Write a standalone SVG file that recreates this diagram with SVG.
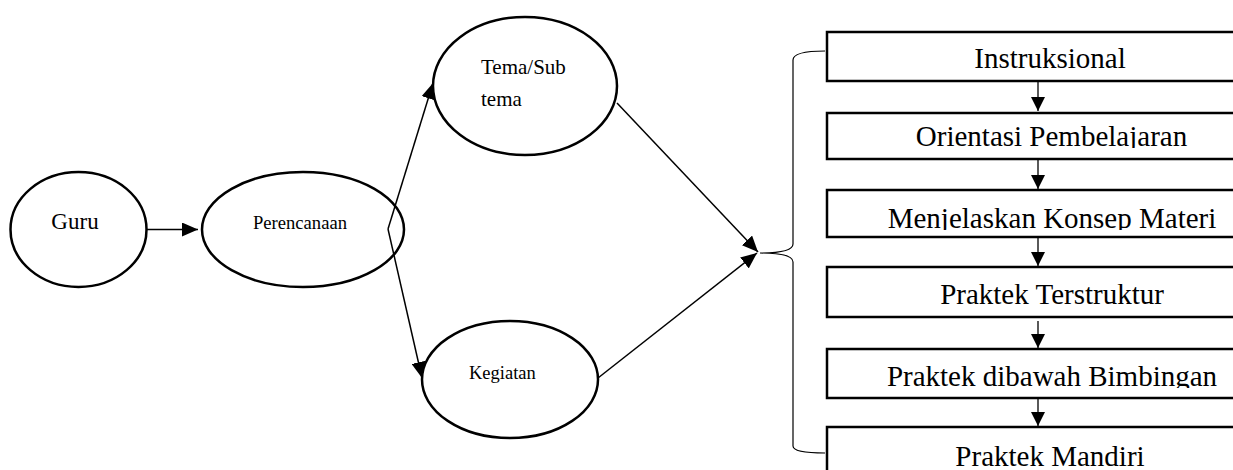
<svg xmlns="http://www.w3.org/2000/svg" width="1233" height="470" viewBox="0 0 1233 470">
<style>
.node{fill:#fff;stroke:#000;stroke-width:2.5}
.box{fill:#fff;stroke:#000;stroke-width:2.5}
.lbl{font-family:"Liberation Serif","Times New Roman",serif;fill:#000}
.con{fill:none;stroke:#000;stroke-width:1.5}
.stem{fill:none;stroke:#000;stroke-width:1.3}
.brace{fill:none;stroke:#000;stroke-width:1.2}
</style>
<defs>
<marker id="ah" markerUnits="userSpaceOnUse" markerWidth="16" markerHeight="14" refX="16" refY="7" orient="auto">
<path d="M0,0 L16,7 L0,14 z" fill="#000"/>
</marker>
<marker id="ahs" markerUnits="userSpaceOnUse" markerWidth="14" markerHeight="14" refX="14" refY="7" orient="auto">
<path d="M0,0 L14,7 L0,14 z" fill="#000"/>
</marker>
<clipPath id="c1"><rect x="828" y="33" width="420" height="37"/></clipPath>
<clipPath id="c2"><rect x="828" y="114" width="420" height="34"/></clipPath>
<clipPath id="c3"><rect x="828" y="191" width="420" height="39"/></clipPath>
<clipPath id="c4"><rect x="828" y="268" width="420" height="38"/></clipPath>
<clipPath id="c5"><rect x="828" y="350" width="420" height="38"/></clipPath>
<clipPath id="c6"><rect x="828" y="428" width="420" height="42"/></clipPath>
</defs>
<rect width="1233" height="470" fill="#fff"/>
<g id="guru">
<ellipse class="node" cx="78.5" cy="229.5" rx="68" ry="57.5"/>
<text class="lbl" x="75" y="229" font-size="23" text-anchor="middle">Guru</text>
</g>
<g id="perencanaan">
<ellipse class="node" cx="303" cy="229.5" rx="101" ry="57.5"/>
<text class="lbl" x="300" y="229" font-size="18.6" text-anchor="middle">Perencanaan</text>
</g>
<g id="tema">
<ellipse class="node" cx="525" cy="86" rx="92" ry="69"/>
<text class="lbl" x="481" y="74" font-size="21">Tema/Sub</text>
<text class="lbl" x="481" y="106" font-size="21">tema</text>
</g>
<g id="kegiatan">
<ellipse class="node" cx="510" cy="379.5" rx="88" ry="58.5"/>
<text class="lbl" x="469" y="379" font-size="18.5">Kegiatan</text>
</g>
<g id="instruksional">
<rect class="box" x="827" y="32" width="440" height="49"/>
<text class="lbl" x="1050" y="68" font-size="29" text-anchor="middle" clip-path="url(#c1)">Instruksional</text>
</g>
<g id="orientasi">
<rect class="box" x="827" y="113" width="440" height="46"/>
<text class="lbl" x="1051.5" y="146" font-size="29" text-anchor="middle" clip-path="url(#c2)">Orientasi Pembelajaran</text>
</g>
<g id="menjelaskan">
<rect class="box" x="827" y="190" width="440" height="47"/>
<text class="lbl" x="1052" y="228" font-size="29" text-anchor="middle" clip-path="url(#c3)">Menjelaskan Konsep Materi</text>
</g>
<g id="terstruktur">
<rect class="box" x="827" y="267" width="440" height="50"/>
<text class="lbl" x="1052" y="304" font-size="29" text-anchor="middle" clip-path="url(#c4)">Praktek Terstruktur</text>
</g>
<g id="bimbingan">
<rect class="box" x="827" y="349" width="440" height="49"/>
<text class="lbl" x="1052" y="386" font-size="29" text-anchor="middle" clip-path="url(#c5)">Praktek dibawah Bimbingan</text>
</g>
<g id="mandiri">
<rect class="box" x="827" y="427" width="440" height="60"/>
<text class="lbl" x="1050" y="465.5" font-size="29" text-anchor="middle">Praktek Mandiri</text>
</g>
<g id="connectors">
<line class="con" x1="147" y1="229.5" x2="198" y2="229.5" marker-end="url(#ah)"/>
<line class="con" x1="388" y1="229" x2="433" y2="83" marker-end="url(#ah)"/>
<line class="con" x1="388" y1="229" x2="422" y2="378" marker-end="url(#ah)"/>
<line class="con" x1="617" y1="103" x2="758" y2="252" marker-end="url(#ah)"/>
<line class="con" x1="598" y1="378" x2="757" y2="253" marker-end="url(#ah)"/>
<path class="brace" d="M825,51 C806,51 793,53 793,60 L793,244 C793,250 782,253 760,253 C782,253 793,256 793,262 L793,446 C793,451 806,453 825,453"/>
<line class="stem" x1="1038" y1="82" x2="1038" y2="111" marker-end="url(#ahs)"/>
<line class="stem" x1="1038" y1="160" x2="1038" y2="189" marker-end="url(#ahs)"/>
<line class="stem" x1="1038" y1="238" x2="1038" y2="266" marker-end="url(#ahs)"/>
<line class="stem" x1="1038" y1="321" x2="1038" y2="348" marker-end="url(#ahs)"/>
<line class="stem" x1="1038" y1="399" x2="1038" y2="426" marker-end="url(#ahs)"/>
</g>
</svg>
